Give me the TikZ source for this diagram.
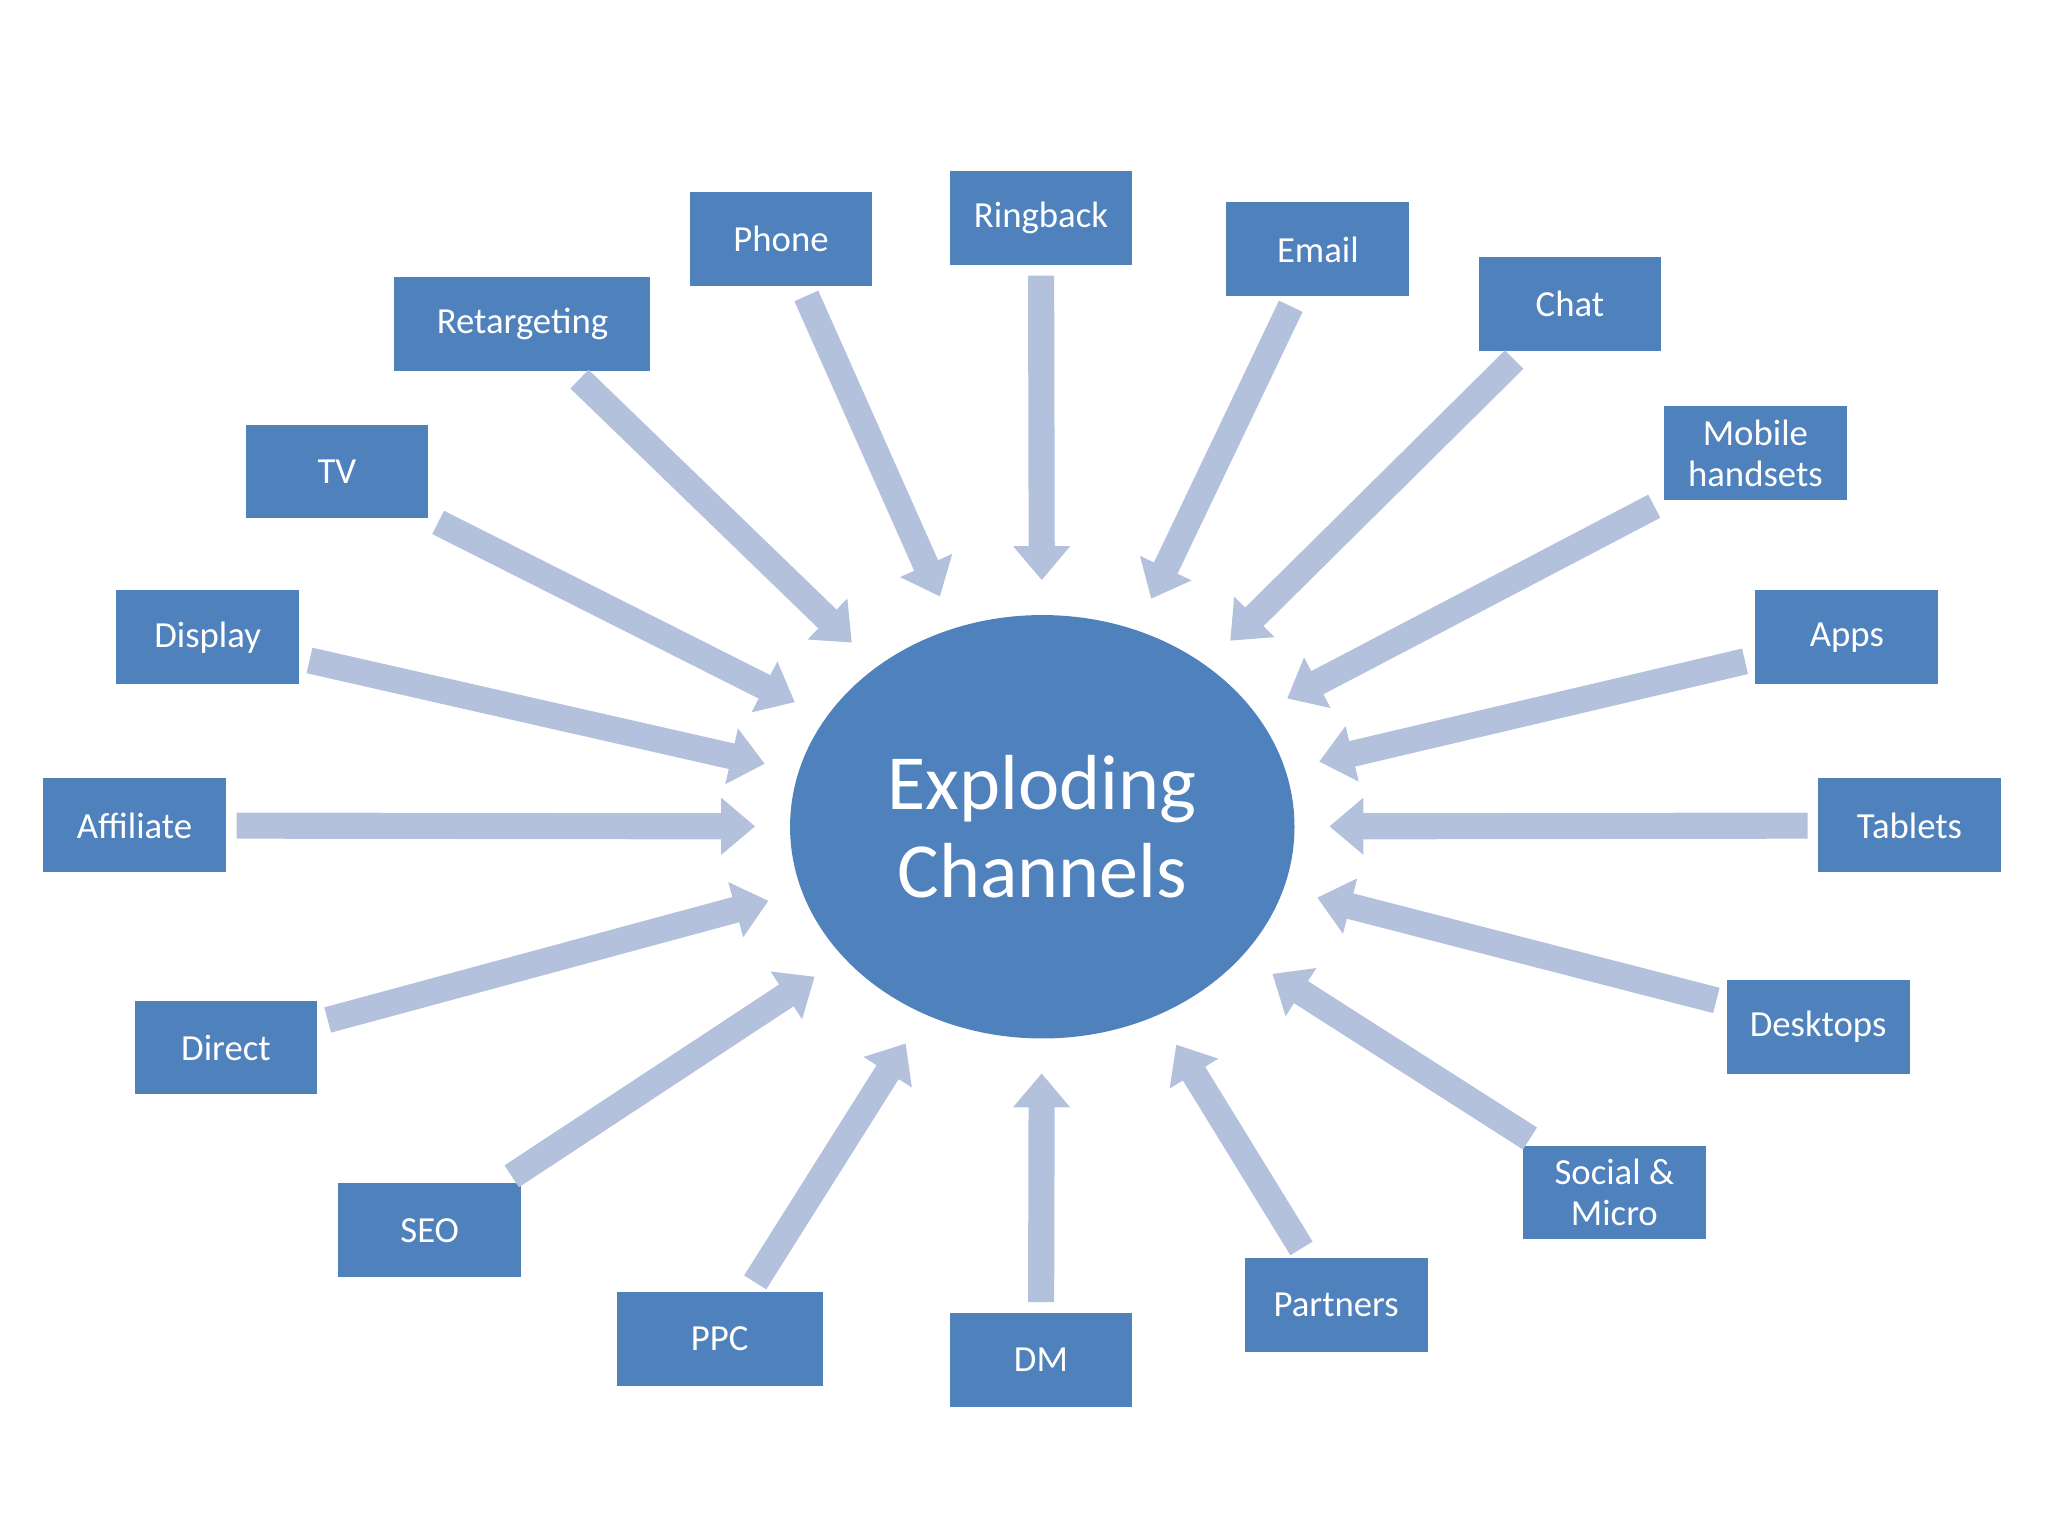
\documentclass[tikz,border=0pt]{standalone}
\usepackage{fontspec}
\setmainfont{Carlito}
\usetikzlibrary{arrows.meta,shapes.geometric}
\definecolor{boxblue}{HTML}{4F81BD}
\definecolor{arrowblue}{HTML}{B4C1DD}
\begin{document}
\begin{tikzpicture}[x=0.01cm,y=-0.01cm,
  box/.style={draw=white,line width=0.6pt,fill=boxblue,text=white,minimum width=1.42cm,
    minimum height=0.74cm,inner sep=1pt,align=center,font=\fontsize{8}{9}\selectfont},
  flow/.style={draw=arrowblue,line width=0.2cm,-{Triangle[width=0.42cm,length=0.26cm]},
    shorten <=0.06cm,shorten >=0.26cm}]
\useasboundingbox (0,0) rectangle (1568,1176);
\node[ellipse,fill=boxblue,minimum width=3.86cm,minimum height=3.24cm,text=white,
  font=\fontsize{17}{19}\selectfont,align=center] (c) at (798,633) {Exploding\\Channels};
\node[box] (phone) at (598,183) {Phone};
\node[box] (ring) at (797,167) {Ringback};
\node[box] (email) at (1009,191) {Email};
\node[box] (chat) at (1202,233) {Chat};
\node[box] (mob) at (1344,347) {Mobile\\handsets};
\node[box] (apps) at (1414,488) {Apps};
\node[box] (tab) at (1462,632) {Tablets};
\node[box] (desk) at (1392,786) {Desktops};
\node[box] (soc) at (1236,913) {Social \&\\Micro};
\node[box] (part) at (1023,999) {Partners};
\node[box] (dm) at (797,1041) {DM};
\node[box,minimum width=1.6cm] (ppc) at (551,1025) {PPC};
\node[box] (seo) at (329,942) {SEO};
\node[box] (dir) at (173,802) {Direct};
\node[box] (aff) at (103,632) {Affiliate};
\node[box] (disp) at (159,488) {Display};
\node[box] (tv) at (258,361) {TV};
\node[box,minimum width=1.98cm] (ret) at (400,248) {Retargeting};
\foreach \n in {phone,ring,email,chat,mob,apps,tab,desk,soc,part,dm,ppc,seo,dir,aff,disp,tv,ret}
  \draw[flow] (\n) -- (c);
\end{tikzpicture}
\end{document}
